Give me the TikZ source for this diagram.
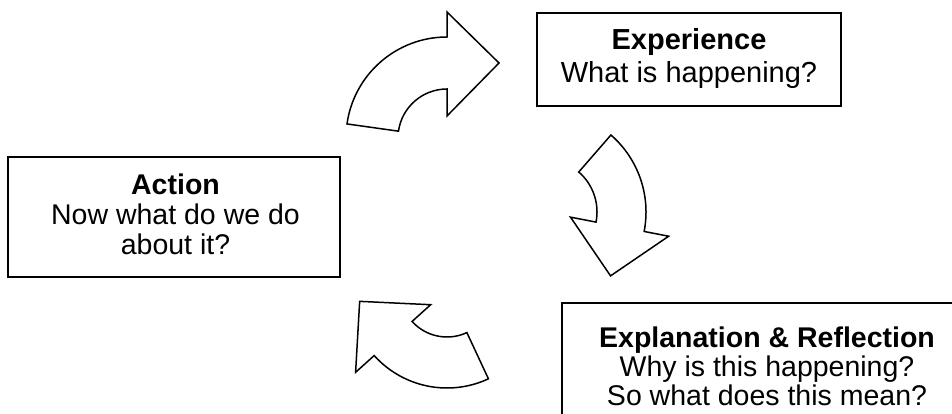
\documentclass[tikz,border=0pt]{standalone}
\usepackage{fontspec}
\setmainfont{Liberation Sans}
\usetikzlibrary{calc}
\tikzset{
  box/.style={draw=black, line width=1.8pt, fill=white, inner sep=0pt},
  bentarrow/.style={draw=black, line width=1.5pt, fill=white, line join=miter},
  txt/.style={align=center, inner sep=0pt},
}
\begin{document}
\begin{tikzpicture}[x=1pt,y=1pt]
\useasboundingbox (0,0) rectangle (952,414);
\clip (0,0) rectangle (952,414);
\fill[white] (0,0) rectangle (952,414);

% boxes
\node[box, minimum width=304pt, minimum height=93pt] (exp) at (689,354.5) {};
\node[txt, font=\fontsize{29}{33}\selectfont] (exptxt) at (689,355) {\textbf{Experience}\\What is happening?};

\node[box, minimum width=332pt, minimum height=120pt] (act) at (174,197) {};
\node[txt, font=\fontsize{28.5}{30}\selectfont] (acttxt) at (175.5,200) {\textbf{Action}\\Now what do we do\\about it?};

\node[box, minimum width=450pt, minimum height=150pt, anchor=north west] (expl) at (561,112) {};
\node[txt, font=\fontsize{28.5}{29}\selectfont] (expltxt) at (767,48) {\textbf{Explanation \& Reflection}\\Why is this happening?\\So what does this mean?};

% curved arrows
\coordinate (c1) at (447,276);
\draw[bentarrow] ($(c1)+(172:101pt)$) arc[start angle=172, end angle=90, radius=101pt]
  -- ($(c1)+(90:126pt)$) -- ($(c1)+(90:75pt)+(0:52pt)$) -- ($(c1)+(90:22pt)$)
  -- ($(c1)+(90:49pt)$) arc[start angle=90, end angle=172, radius=49pt] -- cycle;

\coordinate (c2) at (544,202);
\draw[bentarrow] ($(c2)+(49:102pt)$) arc[start angle=49, end angle=-11, radius=102pt]
  -- ($(c2)+(-11:127pt)$) -- ($(c2)+(-11:77.5pt)+(-101:50pt)$) -- ($(c2)+(-11:27pt)$)
  -- ($(c2)+(-11:53pt)$) arc[start angle=-11, end angle=49, radius=53pt] -- cycle;

\coordinate (c3) at (447,124);
\draw[bentarrow] ($(c3)+(295:98pt)$) arc[start angle=295, end angle=222, radius=98pt]
  -- ($(c3)+(222:123pt)$) -- ($(c3)+(222:72.5pt)+(132:50pt)$) -- ($(c3)+(222:22pt)$)
  -- ($(c3)+(222:47pt)$) arc[start angle=222, end angle=295, radius=47pt] -- cycle;
\end{tikzpicture}
\end{document}
